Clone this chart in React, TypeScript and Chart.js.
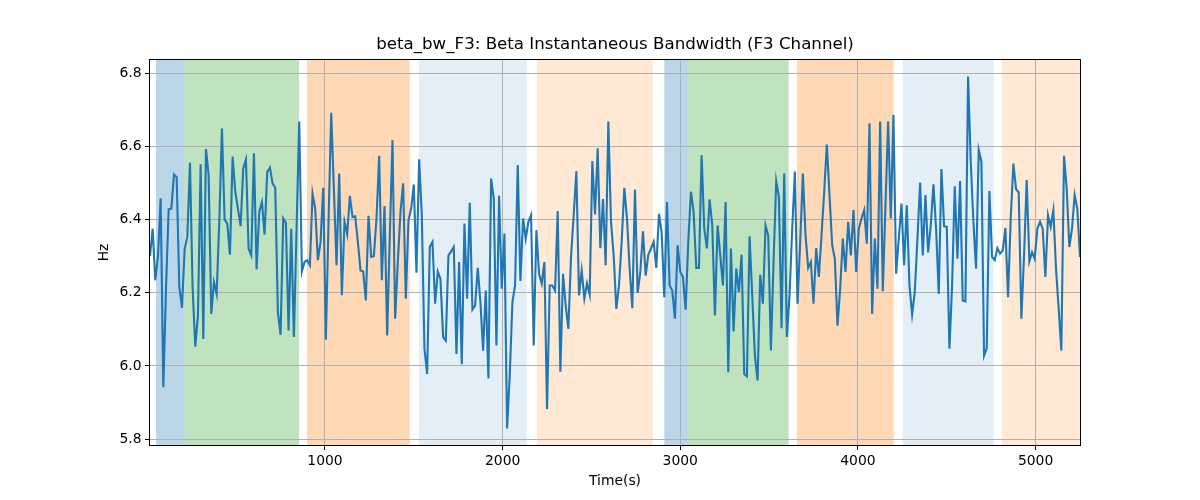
import React, { useEffect, useRef } from "react";
import { Chart, registerables } from "chart.js";

Chart.register(...registerables);

const TITLE = "beta_bw_F3: Beta Instantaneous Bandwidth (F3 Channel)";
const X_LABEL = "Time(s)";
const Y_LABEL = "Hz";

// sampling grid of the recording (seconds)
const T_START = 15;
const T_STEP = 15;

const VALUES = [
  6.30, 6.375, 6.234, 6.30, 6.458, 5.942, 6.21, 6.428, 6.43, 6.523, 6.516, 6.216, 6.159, 6.32, 6.352,
  6.555, 6.211, 6.053, 6.138, 6.551, 6.074, 6.593, 6.521, 6.142, 6.229, 6.197, 6.394, 6.649, 6.40, 6.389,
  6.304, 6.572, 6.476, 6.43, 6.382, 6.54, 6.564, 6.32, 6.302, 6.581, 6.264, 6.421, 6.448, 6.359, 6.53,
  6.542, 6.499, 6.487, 6.147, 6.085, 6.403, 6.391, 6.097, 6.375, 6.079, 6.375, 6.668, 6.258, 6.284, 6.289,
  6.275, 6.471, 6.43, 6.289, 6.339, 6.487, 6.072, 6.394, 6.692, 6.485, 6.275, 6.526, 6.193, 6.394, 6.36,
  6.465, 6.407, 6.409, 6.339, 6.261, 6.258, 6.179, 6.41, 6.298, 6.3, 6.403, 6.574, 6.234, 6.437,
  6.083, 6.357, 6.617, 6.129, 6.284, 6.421, 6.499, 6.184, 6.398, 6.43, 6.496, 6.255, 6.565, 6.412, 6.047,
  5.978, 6.325, 6.339, 6.17, 6.258, 6.238, 6.079, 6.069, 6.302, 6.313, 6.325, 6.033, 6.284, 6.005, 6.389,
  6.184, 6.446, 6.154, 6.165, 6.268, 6.174, 6.042, 6.206, 5.966, 6.512, 6.458, 6.056, 6.465, 6.211,
  6.362, 5.829, 5.974, 6.174, 6.22, 6.549, 6.232, 6.403, 6.348, 6.394, 6.412, 6.056, 6.371, 6.252, 6.225,
  6.284, 5.882, 6.22, 6.22, 6.206, 6.423, 5.984, 6.252, 6.165, 6.101, 6.298, 6.412, 6.532, 6.193, 6.261,
  6.184, 6.226, 6.195, 6.56, 6.414, 6.595, 6.322, 6.456, 6.275, 6.668, 6.394, 6.302, 6.156, 6.22,
  6.339, 6.487, 6.403, 6.266, 6.158, 6.482, 6.2, 6.257, 6.368, 6.247, 6.304, 6.321, 6.339, 6.268, 6.416,
  6.366, 6.188, 6.448, 6.22, 6.206, 6.129, 6.33, 6.257, 6.243, 6.154, 6.339, 6.476, 6.421, 6.268, 6.268,
  6.576, 6.375, 6.321, 6.455, 6.384, 6.138, 6.384, 6.302, 6.22, 6.448, 5.983, 6.321, 6.094, 6.266,
  6.202, 6.304, 5.978, 5.972, 6.354, 6.193, 6.028, 5.96, 6.249, 6.17, 6.384, 6.357, 6.042, 6.284, 6.505,
  6.462, 6.103, 6.526, 6.079, 6.193, 6.375, 6.531, 6.17, 6.339, 6.526, 6.357, 6.268, 6.284, 6.17, 6.322,
  6.243, 6.357, 6.476, 6.605, 6.467, 6.33, 6.293, 6.11, 6.211, 6.348, 6.257, 6.394, 6.302, 6.426,
  6.257, 6.375, 6.403, 6.426, 6.334, 6.663, 6.142, 6.348, 6.211, 6.668, 6.204, 6.439, 6.668, 6.403, 6.686,
  6.252, 6.348, 6.444, 6.275, 6.439, 6.22, 6.14, 6.202, 6.348, 6.501, 6.302, 6.467, 6.31, 6.384, 6.496,
  6.375, 6.197, 6.538, 6.382, 6.38, 6.047, 6.22, 6.491, 6.293, 6.505, 6.179, 6.176, 6.791, 6.558,
  6.394, 6.266, 6.59, 6.558, 6.028, 6.048, 6.478, 6.298, 6.289, 6.322, 6.307, 6.316, 6.377, 6.188, 6.403,
  6.553, 6.483, 6.474, 6.129, 6.302, 6.508, 6.286, 6.311, 6.293, 6.375, 6.394, 6.375, 6.243, 6.412, 6.38,
  6.426, 6.266, 6.156, 6.042, 6.574, 6.485, 6.325, 6.375, 6.467, 6.43, 6.298,
];

const TIMES = VALUES.map((_, i) => T_START + i * T_STEP);

const X_TICKS = [1000, 2000, 3000, 4000, 5000];
const Y_TICKS = [5.8, 6.0, 6.2, 6.4, 6.6, 6.8];
const X_MIN = 15;
const X_MAX = 5250;
const Y_MIN = 5.784;
const Y_MAX = 6.836;

// shaded epochs
const SPAN_START = [49, 210, 899, 1529, 2193, 2910, 3043, 3657, 4252, 4811];
const SPAN_END = [210, 854, 1477, 2135, 2845, 3043, 3610, 4201, 4764, 5250];
const SPAN_COLOR = [
  "rgba(31,119,180,0.3)",
  "rgba(44,160,44,0.3)",
  "rgba(255,127,14,0.3)",
  "rgba(31,119,180,0.12)",
  "rgba(255,127,14,0.18)",
  "rgba(31,119,180,0.3)",
  "rgba(44,160,44,0.3)",
  "rgba(255,127,14,0.3)",
  "rgba(31,119,180,0.12)",
  "rgba(255,127,14,0.18)",
];

const spansPlugin = {
  id: "spans",
  beforeDraw(chart: any) {
    const { ctx, chartArea, scales } = chart;
    const xs = scales.x;
    ctx.save();
    ctx.beginPath();
    ctx.rect(chartArea.left, chartArea.top, chartArea.right - chartArea.left, chartArea.bottom - chartArea.top);
    ctx.clip();
    for (let i = 0; i < SPAN_START.length; i++) {
      const a = xs.getPixelForValue(SPAN_START[i]);
      const b = xs.getPixelForValue(SPAN_END[i]);
      ctx.fillStyle = SPAN_COLOR[i];
      ctx.fillRect(a, chartArea.top, b - a, chartArea.bottom - chartArea.top);
    }
    ctx.restore();
  },
};

const framePlugin = {
  id: "frame",
  afterDatasetsDraw(chart: any) {
    const { ctx, chartArea } = chart;
    ctx.save();
    ctx.strokeStyle = "#000";
    ctx.lineWidth = 1;
    ctx.strokeRect(
      Math.round(chartArea.left) - 0.5,
      Math.round(chartArea.top) - 0.5,
      Math.round(chartArea.right - chartArea.left) + 1,
      Math.round(chartArea.bottom - chartArea.top) + 1
    );
    ctx.restore();
  },
};

export default function App() {
  const ref = useRef<HTMLCanvasElement | null>(null);

  useEffect(() => {
    if (!ref.current) return;
    Chart.defaults.font.family = "'DejaVu Sans', sans-serif";
    Chart.defaults.font.size = 13.9;
    Chart.defaults.color = "#000";

    const chart = new Chart(ref.current, {
      type: "line",
      data: {
        datasets: [
          {
            data: TIMES.map((t, i) => ({ x: t, y: VALUES[i] })),
            borderColor: "#1f77b4",
            borderWidth: 2.1,
            pointRadius: 0,
            tension: 0,
            fill: false,
          },
        ],
      },
      options: {
        responsive: false,
        animation: false,
        layout: { padding: { left: 0, right: 120, top: 0, bottom: 0 } },
        plugins: {
          legend: { display: false },
          tooltip: { enabled: false },
          title: {
            display: true,
            text: TITLE,
            fullSize: false,
            color: "#000",
            font: { size: 16.67, weight: "normal" as any, family: "'DejaVu Sans', sans-serif", lineHeight: 1.2 },
            padding: { top: 35, bottom: 5 },
          },
        },
        scales: {
          x: {
            type: "linear",
            min: X_MIN,
            max: X_MAX,
            afterBuildTicks: (s: any) => {
              s.ticks = X_TICKS.map((v) => ({ value: v }));
            },
            afterFit: (s: any) => {
              s.height = 55;
            },
            ticks: {
              includeBounds: false,
              autoSkip: false,
              maxRotation: 0,
              padding: 3.5,
              color: "#000",
              callback: (v: any) => String(v),
            },
            grid: {
              color: "#b0b0b0",
              lineWidth: 1,
              drawTicks: true,
              tickLength: 5,
              tickColor: "#000",
              tickWidth: 1,
            },
            border: { display: false },
            title: {
              display: true,
              text: X_LABEL,
              color: "#000",
              font: { size: 13.9, lineHeight: 1.2 },
              padding: { top: 0, bottom: 10.5 },
            },
          },
          y: {
            type: "linear",
            min: Y_MIN,
            max: Y_MAX,
            afterBuildTicks: (s: any) => {
              s.ticks = Y_TICKS.map((v) => ({ value: v }));
            },
            afterFit: (s: any) => {
              s.width = 150;
            },
            ticks: {
              includeBounds: false,
              autoSkip: false,
              padding: 3.5,
              color: "#000",
              callback: (v: any) => Number(v).toFixed(1),
            },
            grid: {
              color: "#b0b0b0",
              lineWidth: 1,
              drawTicks: true,
              tickLength: 5,
              tickColor: "#000",
              tickWidth: 1,
            },
            border: { display: false },
            title: {
              display: true,
              text: Y_LABEL,
              color: "#000",
              font: { size: 13.9, lineHeight: 1.2 },
              padding: { top: 96.5, bottom: 0 },
            },
          },
        },
      },
      plugins: [spansPlugin, framePlugin],
    });

    return () => chart.destroy();
  }, []);

  return (
    <div style={{ position: "absolute", left: 0, top: 0, width: 1200, height: 500, background: "#fff" }}>
      <canvas ref={ref} width={1200} height={500} style={{ display: "block", width: 1200, height: 500 }} />
    </div>
  );
}
